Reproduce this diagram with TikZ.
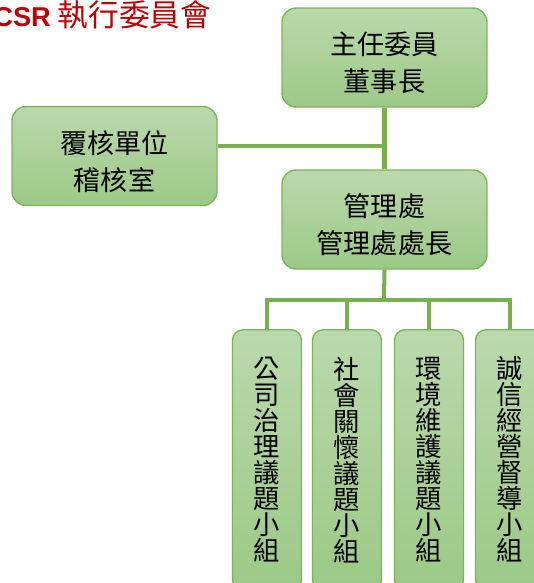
\documentclass[tikz,border=0pt]{standalone}
\usepackage{fontspec}
\setmainfont{Noto Sans CJK TC}
\newfontfamily\latinfont{Liberation Sans}
\definecolor{boxtop}{HTML}{BAD9AC}
\definecolor{boxbot}{HTML}{9CC986}
\definecolor{boxline}{HTML}{7DB35B}
\definecolor{linkgreen}{HTML}{78B04F}
\definecolor{titlered}{HTML}{C00000}
\newcommand{\topgap}{\rule{0pt}{19pt}}
\tikzset{
  unit/.style={draw=boxline, line width=0.8pt, rounded corners=8pt,
    top color=boxtop, bottom color=boxbot,
    minimum width=4.1cm, minimum height=1.98cm,
    align=center, font=\fontsize{15.4}{21}\selectfont},
  group/.style={draw=boxline, line width=0.8pt, rounded corners=6pt,
    top color=boxtop, bottom color=boxbot, anchor=north,
    minimum width=1.38cm, minimum height=5.2cm, inner sep=0pt,
    align=center, font=\fontsize{15}{14.8}\selectfont},
  link/.style={draw=linkgreen, line width=2.3pt}
}
\begin{document}
\begin{tikzpicture}[x=0.02cm, y=-0.02cm]
      \useasboundingbox (0,0) rectangle (534,583);
      \clip (0,0) rectangle (534,583);
      \node[anchor=base west, text=titlered, inner sep=0pt,
        font=\fontsize{17.5}{17.5}\selectfont] (title) at (-7,26)
        {{\latinfont\fontsize{15.5}{15.5}\selectfont\bfseries CSR} 執行委員會};
      \draw
        (384.5,57.5) node[unit] (chair){\topgap 主任委員\\董事長}
        (114.5,156) node[unit] (audit){\topgap 覆核單位\\稽核室}
        (384.5,219.5) node[unit] (mgmt){\topgap 管理處\\管理處處長}
        (267,329) node[group] (gov){公\\司\\治\\理\\議\\題\\小\\組}
        (347,329) node[group] (care){社\\會\\關\\懷\\議\\題\\小\\組}
        (429,329) node[group] (env){環\\境\\維\\護\\議\\題\\小\\組}
        (510,329) node[group] (ethic){誠\\信\\經\\營\\督\\導\\小\\組};
      \coordinate (tap) at (384,146);
      \coordinate (bus) at (384,300);
      \begin{scope}[link]
        \draw (chair.south) -- (mgmt.north);
        \draw (audit.east |- tap) -- (tap);
        \draw (mgmt.south) -- (bus);
        \draw (gov.north) |- (bus) -| (ethic.north);
        \draw (care.north) -- (care.north |- bus);
        \draw (env.north) -- (env.north |- bus);
      \end{scope}
    \end{tikzpicture}
\end{document}
